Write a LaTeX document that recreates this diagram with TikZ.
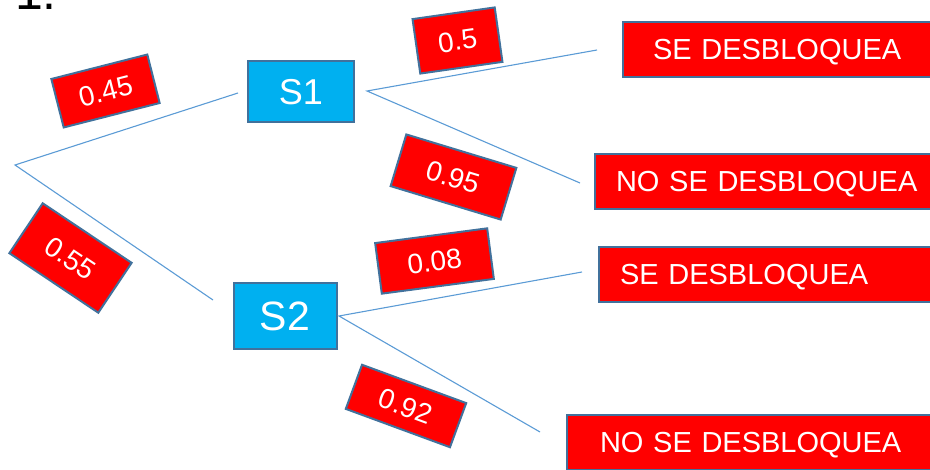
\documentclass[tikz,border=0pt]{standalone}
\usepackage{fontspec}
\setmainfont{Liberation Sans}
\definecolor{lineblue}{HTML}{5B9BD5}
\definecolor{edgeblue}{HTML}{41719C}
\definecolor{scyan}{HTML}{00B0F0}
\definecolor{pred}{HTML}{FF0000}
\begin{document}
\begin{tikzpicture}[x=1pt,y=-1pt,
  conn/.style={draw=lineblue, line width=1.1pt},
  sbox/.style={draw=edgeblue, fill=scyan, line width=2pt, text=white, inner sep=0pt},
  rbox/.style={draw=edgeblue, fill=pred, line width=2pt, text=white, inner ysep=0pt,
    font=\fontsize{29}{34}\selectfont, text height=20.8pt, text depth=0pt,
    minimum height=55pt, align=left, anchor=north west},
  plabel/.style={draw=edgeblue, fill=pred, line width=2pt, text=white, inner sep=0pt,
    font=\fontsize{28}{32}\selectfont, text height=20pt, text depth=0pt},
]
\useasboundingbox (0,0) rectangle (930,470);
\clip (0,0) rectangle (930,470);

% cut-off heading
\node[font=\fontsize{50}{60}\selectfont, anchor=base west, inner sep=0pt] (num) at (15,10) {1.};

% decision boxes
\node[sbox, minimum width=106pt, minimum height=61pt, font=\fontsize{36}{40}\selectfont,
  text height=25.8pt, text depth=0pt] (s1) at (301,91.7) {S1};
\node[sbox, minimum width=103pt, minimum height=66pt, font=\fontsize{41}{46}\selectfont,
  text height=29.4pt, text depth=0pt] (s2) at (285,316) {S2};

% outcome boxes
\node[rbox, inner xsep=30pt, text width=320pt] (r1) at (622,21) {SE DESBLOQUEA};
\node[rbox, inner xsep=21pt, text width=330pt] (r2) at (594,153) {NO SE DESBLOQUEA};
\node[rbox, inner xsep=21pt, text width=330pt] (r3) at (598,246) {SE DESBLOQUEA};
\node[rbox, inner xsep=33pt, text width=330pt] (r4) at (566,414) {NO SE DESBLOQUEA};

% connector end points
\coordinate (root) at (15,165);
\coordinate (s1in) at (238,93);
\coordinate (s2in) at (213,300);
\coordinate (s1out) at (367,91);
\coordinate (s2out) at (339,316);
\coordinate (e1) at (597,50);
\coordinate (e2) at (580,183);
\coordinate (e3) at (582,272);
\coordinate (e4) at (540,432);

\draw[conn] (s1in) -- (root) -- (s2in);
\draw[conn] (e1) -- (s1out) -- (e2);
\draw[conn] (e3) -- (s2out) -- (e4);

% probability labels
\node[plabel, minimum width=99pt, minimum height=50pt, rotate=14.3] (p45) at (105.5,91) {0.45};
\node[plabel, minimum width=107pt, minimum height=60pt, rotate=-33.8] (p55) at (70.5,258) {0.55};
\node[plabel, minimum width=83pt, minimum height=55pt, rotate=8.1] (p5) at (457.5,40.5) {0.5};
\node[plabel, minimum width=115pt, minimum height=54pt, rotate=-16.9] (p95) at (453.5,177) {0.95};
\node[plabel, minimum width=113pt, minimum height=51pt, rotate=7.5] (p08) at (434.5,261) {0.08};
\node[plabel, minimum width=111pt, minimum height=47pt, rotate=-20.2] (p92) at (406,406) {0.92};
\end{tikzpicture}
\end{document}
